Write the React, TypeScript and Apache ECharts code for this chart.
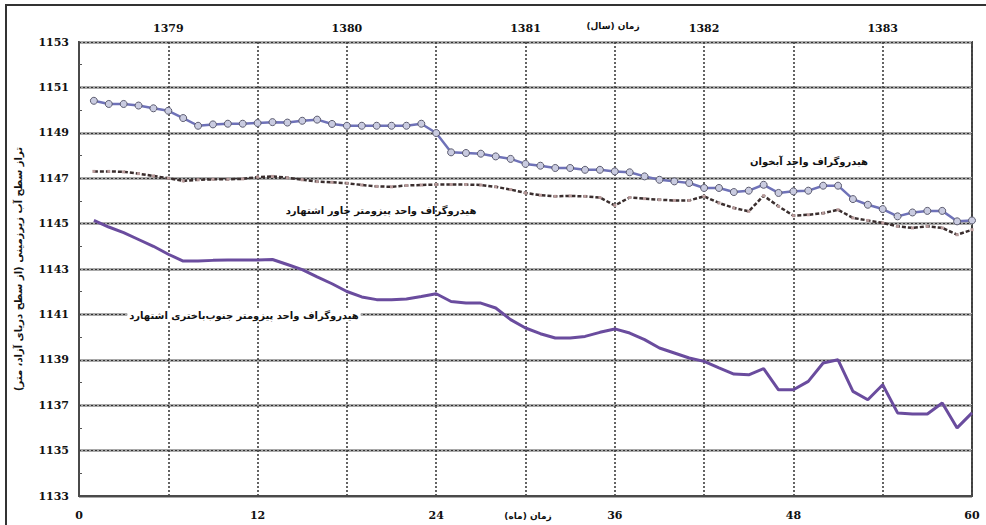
import React, { useEffect, useRef } from 'react';
import * as echarts from 'echarts';

const yearLabels = ['1379', '1380', '1381', '1382', '1383'];

const seriesNames = [
  'هیدروگراف واحد آبخوان',
  'هیدروگراف واحد پیزومتر خاور اشتهارد',
  'هیدروگراف واحد پیزومتر جنوب‌باختری اشتهارد',
];

const aquiferValues = [
  1150.41, 1150.27, 1150.27, 1150.2, 1150.08, 1149.97, 1149.65, 1149.31, 1149.37, 1149.4,
  1149.4, 1149.43, 1149.47, 1149.45, 1149.53, 1149.58, 1149.39, 1149.31, 1149.31, 1149.31,
  1149.31, 1149.31, 1149.4, 1148.99, 1148.14, 1148.11, 1148.08, 1147.96, 1147.85, 1147.63,
  1147.55, 1147.45, 1147.45, 1147.37, 1147.37, 1147.3, 1147.26, 1147.08, 1146.93, 1146.86,
  1146.79, 1146.57, 1146.57, 1146.39, 1146.45, 1146.71, 1146.35, 1146.42, 1146.45, 1146.67,
  1146.67, 1146.08, 1145.83, 1145.64, 1145.32, 1145.49, 1145.56, 1145.56, 1145.1, 1145.14,
];

const eastValues = [
  1147.3, 1147.3, 1147.28, 1147.2, 1147.1, 1147.0, 1146.88, 1146.93, 1146.95, 1146.95,
  1146.97, 1147.05, 1147.08, 1147.02, 1146.93, 1146.85, 1146.82, 1146.78, 1146.7, 1146.64,
  1146.62, 1146.68, 1146.7, 1146.72, 1146.72, 1146.72, 1146.7, 1146.62, 1146.5, 1146.35,
  1146.25, 1146.2, 1146.22, 1146.2, 1146.15, 1145.8, 1146.15, 1146.1, 1146.05, 1146.02,
  1146.02, 1146.2, 1145.91, 1145.69, 1145.54, 1146.23, 1145.76, 1145.35, 1145.39, 1145.46,
  1145.61, 1145.25, 1145.14, 1145.03, 1144.88, 1144.81, 1144.88, 1144.81, 1144.51, 1144.73,
];

const southwestValues = [
  1145.14, 1144.85, 1144.6, 1144.3, 1144.0, 1143.65, 1143.35, 1143.35, 1143.38, 1143.4,
  1143.4, 1143.4, 1143.42, 1143.2, 1142.97, 1142.65, 1142.35, 1142.01, 1141.77, 1141.65,
  1141.65, 1141.68, 1141.79, 1141.91, 1141.57, 1141.5, 1141.5, 1141.28, 1140.77, 1140.4,
  1140.15, 1139.96, 1139.96, 1140.03, 1140.21, 1140.36, 1140.18, 1139.89, 1139.52, 1139.3,
  1139.08, 1138.93, 1138.64, 1138.37, 1138.34, 1138.61, 1137.68, 1137.68, 1138.05, 1138.86,
  1139.0, 1137.61, 1137.24, 1137.9, 1136.66, 1136.61, 1136.61, 1137.1, 1136.0, 1136.66,
];

const yAxisName = 'تراز سطح آب زیرزمینی (از سطح دریای آزاد، متر)';
const topAxisName = 'زمان (سال)';
const bottomAxisName = 'زمان (ماه)';

const toPairs = (vals: number[]) => vals.map((v, i) => [i + 1, v]);

const tickFont = {
  fontFamily: 'DejaVu Serif',
  fontWeight: 'bold' as const,
  fontSize: 11,
  color: '#111',
};

export default function App() {
  const ref = useRef<HTMLDivElement>(null);
  useEffect(() => {
    document.body.style.margin = '0';
    const chart = echarts.init(ref.current!, null, { renderer: 'svg' });
    chart.setOption({
      animation: false,
      backgroundColor: '#ffffff',
      grid: {
        left: 79,
        right: 14,
        top: 42,
        bottom: 29,
        show: true,
        borderColor: '#4a4a4a',
        borderWidth: 2,
      },
      xAxis: [
        {
          type: 'value',
          min: 0,
          max: 60,
          interval: 6,
          position: 'bottom',
          axisLine: { show: true, lineStyle: { color: '#4a4a4a', width: 2 } },
          axisTick: { show: false },
          axisLabel: {
            ...tickFont,
            margin: 14,
            formatter: (v: number) => (v % 12 === 0 ? String(v) : ''),
          },
          splitLine: { show: true, lineStyle: { color: '#3e3e3e', type: [2, 2], width: 1.6 } },
        },
        {
          type: 'value',
          min: 0,
          max: 60,
          interval: 6,
          position: 'top',
          axisLine: { show: false },
          axisTick: { show: false },
          axisLabel: {
            ...tickFont,
            margin: 8,
            formatter: (v: number) => (v % 12 === 6 ? yearLabels[(v - 6) / 12] : ''),
          },
          splitLine: { show: false },
        },
      ],
      yAxis: [
        {
          type: 'value',
          min: 1133,
          max: 1153,
          interval: 2,
          name: yAxisName,
          nameLocation: 'middle',
          nameGap: 56,
          nameRotate: 90,
          nameTextStyle: {
            fontFamily: 'DejaVu Sans',
            fontWeight: 'bold',
            fontSize: 10,
            color: '#111',
          },
          axisLine: { show: true, lineStyle: { color: '#4a4a4a', width: 2 } },
          axisTick: { show: false, inside: true },
          minorTick: { show: true, splitNumber: 2, length: 3, lineStyle: { color: '#555', width: 1 } },
          axisLabel: { ...tickFont, margin: 10, formatter: (v: number) => String(v) },
          splitLine: { show: true, lineStyle: { color: '#a9a9a9', width: 3 } },
        },
        {
          type: 'value',
          min: 1133,
          max: 1153,
          interval: 2,
          position: 'left',
          axisLine: { show: false },
          axisTick: { show: false },
          axisLabel: { show: false },
          splitLine: { show: true, lineStyle: { color: '#333', type: [2, 2], width: 1 } },
        },
      ],
      series: [
        {
          name: seriesNames[0],
          type: 'line',
          xAxisIndex: 0,
          yAxisIndex: 0,
          data: toPairs(aquiferValues),
          symbol: 'circle',
          symbolSize: 7,
          itemStyle: { color: '#c9cbe0', borderColor: '#5c5c70', borderWidth: 1 },
          lineStyle: { color: '#6f72b8', width: 2.5 },
          z: 5,
        },
        {
          name: seriesNames[1],
          type: 'line',
          xAxisIndex: 0,
          yAxisIndex: 0,
          data: toPairs(eastValues),
          symbol: 'rect',
          symbolSize: 3,
          itemStyle: { color: '#b89a9a' },
          lineStyle: { color: '#3a2e2e', width: 2.5, type: [4, 2] },
          z: 4,
        },
        {
          name: seriesNames[2],
          type: 'line',
          xAxisIndex: 0,
          yAxisIndex: 0,
          data: toPairs(southwestValues),
          showSymbol: false,
          symbol: 'none',
          lineStyle: { color: '#6a4c9e', width: 3 },
          z: 4,
        },
      ],
      graphic: [
        {
          type: 'rect',
          shape: { x: 6, y: 5, width: 1000, height: 540 },
          style: { fill: 'none', stroke: '#333', lineWidth: 2 },
          silent: true,
        },
        {
          type: 'text',
          x: 613,
          y: 26,
          style: {
            text: topAxisName,
            font: 'bold 9px "DejaVu Sans"',
            fill: '#111',
            align: 'center',
            verticalAlign: 'middle',
          },
        },
        {
          type: 'text',
          x: 528,
          y: 516,
          style: {
            text: bottomAxisName,
            font: 'bold 9px "DejaVu Sans"',
            fill: '#111',
            align: 'center',
            verticalAlign: 'middle',
          },
        },
        {
          type: 'text',
          x: 868,
          y: 161,
          z: 10,
          style: {
            text: seriesNames[0],
            font: 'bold 10px "DejaVu Sans"',
            fill: '#111',
            align: 'right',
            verticalAlign: 'middle',
          },
        },
        {
          type: 'text',
          x: 381,
          y: 210,
          z: 10,
          style: {
            text: seriesNames[1],
            font: 'bold 10px "DejaVu Sans"',
            fill: '#111',
            align: 'center',
            verticalAlign: 'middle',
          },
        },
        {
          type: 'text',
          x: 244,
          y: 315,
          z: 10,
          style: {
            text: seriesNames[2],
            font: 'bold 10px "DejaVu Sans"',
            fill: '#111',
            align: 'center',
            verticalAlign: 'middle',
            backgroundColor: '#ffffff',
            padding: [1, 2],
          },
        },
      ],
    });
    return () => chart.dispose();
  }, []);
  return (
    <div
      ref={ref}
      style={{ position: 'absolute', left: 0, top: 0, width: 986, height: 525, background: '#fff' }}
    />
  );
}
